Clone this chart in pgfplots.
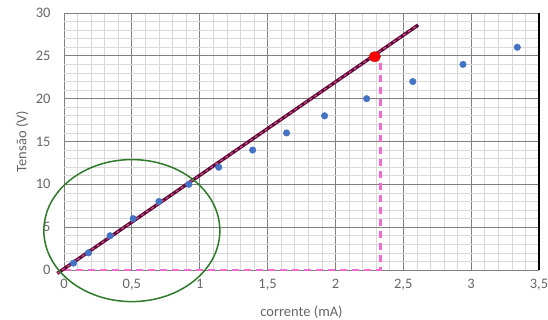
\documentclass[border=0pt]{standalone}
\usepackage{fontspec}
\setmainfont{Carlito}
\usepackage{pgfplots}
\pgfplotsset{compat=1.18}

\definecolor{txtgray}{HTML}{666666}
\definecolor{dotblue}{HTML}{4472C4}
\definecolor{guidepink}{HTML}{F26BCF}
\definecolor{fitmaroon}{HTML}{5E0C36}
\definecolor{fitpink}{HTML}{D9509A}
\definecolor{ringgreen}{HTML}{2F7A2A}

\begin{document}
\begin{tikzpicture}
\useasboundingbox (-64pt,-50pt) rectangle (484pt,270pt);
\begin{axis}[
  scale only axis, width=475pt, height=257pt,
  xmin=0, xmax=3.5, ymin=0, ymax=30,
  xtick={0,0.5,1,1.5,2,2.5,3,3.5},
  xticklabels={0,{0,5},1,{1,5},2,{2,5},3,{3,5}},
  ytick={0,5,10,15,20,25,30},
  yticklabels={0,5,10,15,20,25,30},
  minor x tick num=4, minor y tick num=4,
  grid=both,
  major grid style={draw=black!50, line width=0.9pt},
  minor grid style={draw=black!15, line width=0.6pt},
  axis line style={draw=none},
  major tick length=0pt, minor tick length=0pt,
  tick label style={font=\fontsize{14.5}{16}\selectfont, text=txtgray},
  xticklabel style={yshift=-6pt},
  yticklabel style={xshift=-10pt},
  xlabel={corrente (mA)}, ylabel={Tensão (V)},
  label style={font=\fontsize{14.5}{16}\selectfont, text=txtgray},
  xlabel style={at={(axis description cs:0.5,-0.163)}, anchor=center},
  ylabel style={at={(axis description cs:-0.088,0.5)}, anchor=center},
  clip=false,
]
% right frame
\draw[black, line width=1.4pt] (rel axis cs:1,0) -- (rel axis cs:1,1);

% guide lines to the operating point
\addplot[guidepink, line width=2.6pt, dash pattern=on 7pt off 5pt]
  coordinates {(0,0) (2.33,0) (2.33,24.3)};

% measured points
\addplot[only marks, mark=*, mark size=3.3pt, color=dotblue]
  coordinates {
    (0.07,0.8) (0.18,2) (0.34,4) (0.51,6) (0.70,8) (0.92,10)
    (1.14,12) (1.39,14) (1.64,16) (1.92,18) (2.23,20)
    (2.57,22) (2.94,24) (3.34,26)
  };

% linear fit of the ohmic region
\addplot[fitmaroon, line width=3.4pt] coordinates {(-0.05,-0.4) (2.61,28.6)};
\addplot[fitpink, line width=1.1pt, dash pattern=on 3pt off 3pt]
  coordinates {(-0.05,-0.4) (2.61,28.6)};

% operating point
\addplot[only marks, mark=*, mark size=5pt,
  mark options={fill=red, draw=red!80!black, xscale=1.15}]
  coordinates {(2.29,24.9)};

% highlighted linear region
\draw[ringgreen, line width=1.5pt] (axis cs:0.5,4.6) ellipse [x radius=88pt, y radius=71pt];
\end{axis}
\end{tikzpicture}
\end{document}
